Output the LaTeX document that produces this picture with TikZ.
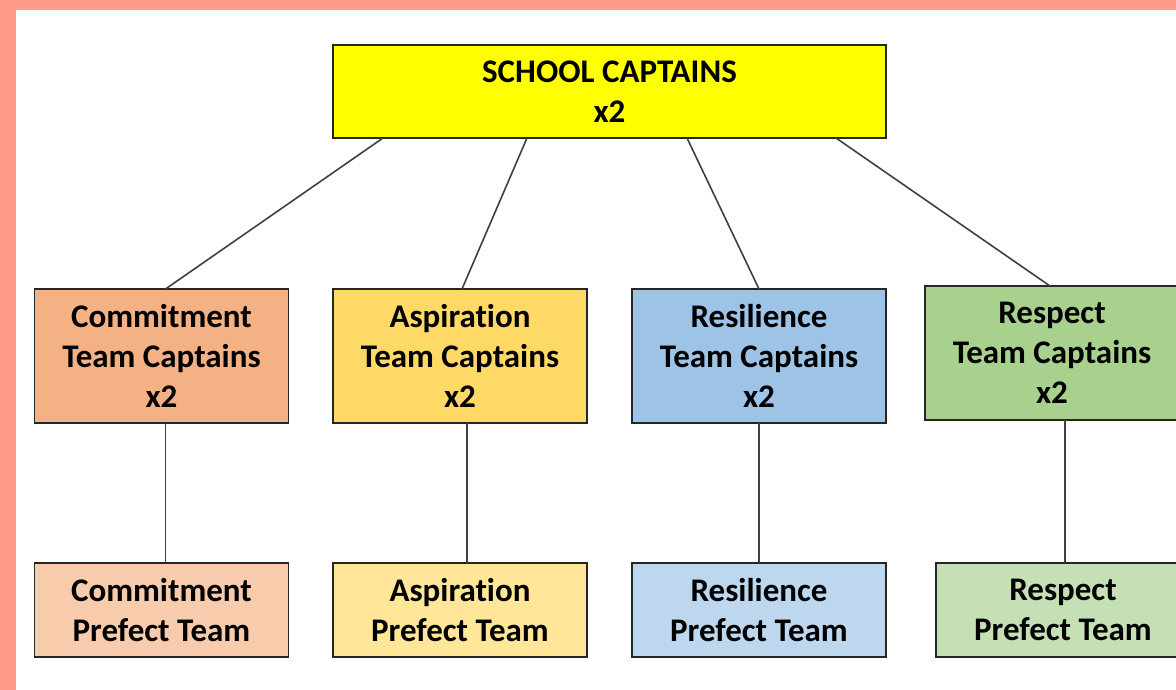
\documentclass[tikz,border=0pt]{standalone}
\usepackage{fontspec}
\setmainfont[Ligatures=NoCommon]{Carlito}
\usetikzlibrary{positioning}

\definecolor{frame}{HTML}{FE9B8A}
\definecolor{capyellow}{HTML}{FFFF00}
\definecolor{cmtdark}{HTML}{F4B183}
\definecolor{cmtlight}{HTML}{F8CBAD}
\definecolor{aspdark}{HTML}{FFD966}
\definecolor{asplight}{HTML}{FFE699}
\definecolor{resdark}{HTML}{9DC3E6}
\definecolor{reslight}{HTML}{BDD7EE}
\definecolor{rspdark}{HTML}{A9D18E}
\definecolor{rsplight}{HTML}{C5E0B4}

\tikzset{
    teambox/.style={
           rectangle,
           draw=black!85, line width=1.4pt,
           minimum width=254pt,
           minimum height=134pt,
           inner sep=0pt, outer sep=0pt,
           align=center,
           font=\fontsize{33}{40}\selectfont\bfseries,
           },
    prefectbox/.style={
           teambox,
           minimum height=94pt,
           },
    link/.style={
           draw=black!75, line width=1.6pt,
           },
}

\begin{document}
\begin{tikzpicture}[x=1pt,y=1pt]
 \useasboundingbox (0,0) rectangle (1176,-690);
 \clip (0,0) rectangle (1176,-690);
 \fill[frame] (0,0) rectangle (1176,-690);
 \fill[white] (16,-10) rectangle (1176,-690);

 \node[teambox,
  fill=capyellow,
  minimum width=553pt,
  minimum height=93pt] (SCHOOL)
  at (609.5,-91.5) {SCHOOL CAPTAINS\\x2};

 % team captains
 \node[teambox, fill=cmtdark] (Commitment) at (161.5,-356)
  {Commitment\\Team Captains\\x2};
 \node[teambox, fill=aspdark] (Aspiration) at (460,-356)
  {Aspiration\\Team Captains\\x2};
 \node[teambox, fill=resdark] (Resilience) at (759,-356)
  {Resilience\\Team Captains\\x2};
 \node[teambox, fill=rspdark] (Respect) at (1052,-353)
  {Respect\\Team Captains\\x2};

 % prefect teams
 \node[prefectbox, fill=cmtlight] (Commitment Prefect) at (161.5,-610)
  {Commitment\\Prefect Team};
 \node[prefectbox, fill=asplight] (Aspiration Prefect) at (460,-610)
  {Aspiration\\Prefect Team};
 \node[prefectbox, fill=reslight] (Resilience Prefect) at (759,-610)
  {Resilience\\Prefect Team};
 \node[prefectbox, fill=rsplight] (Respect Prefect) at (1063,-610)
  {Respect\\Prefect Team};

 % connectors
 \draw[link] ([xshift=50pt]SCHOOL.south west) -- ([xshift=4pt]Commitment.north);
 \draw[link] ([xshift=194pt]SCHOOL.south west) -- ([xshift=2pt]Aspiration.north);
 \draw[link] ([xshift=354pt]SCHOOL.south west) -- (Resilience.north);
 \draw[link] ([xshift=503pt]SCHOOL.south west) -- ([xshift=-2pt]Respect.north);

 \draw[link] ([xshift=4pt]Commitment.south) -- ([xshift=4pt]Commitment Prefect.north);
 \draw[link] ([xshift=7pt]Aspiration.south) -- ([xshift=7pt]Aspiration Prefect.north);
 \draw[link] (Resilience.south) -- (Resilience Prefect.north);
 \draw[link] ([xshift=13pt]Respect.south) -- ([xshift=2pt]Respect Prefect.north);

\end{tikzpicture}
\end{document}
